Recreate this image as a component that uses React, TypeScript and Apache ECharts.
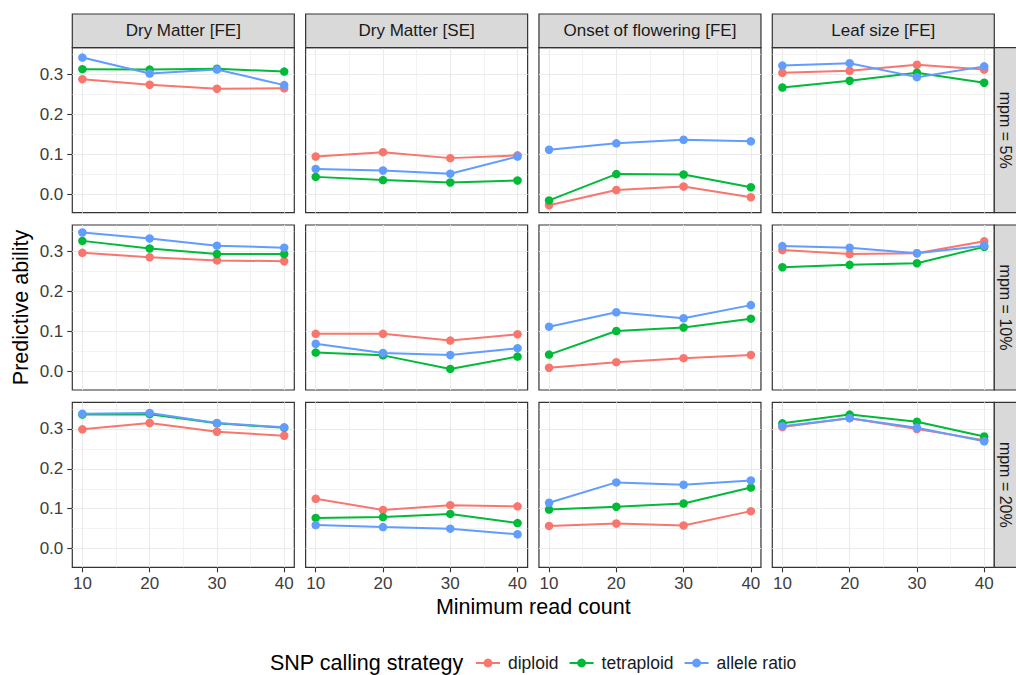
import React, { useEffect, useRef } from "react";
import * as echarts from "echarts";

// ---------- data ----------
const readCounts = [10, 20, 30, 40];
const traits = ["Dry Matter [FE]", "Dry Matter [SE]", "Onset of flowering [FE]", "Leaf size [FE]"];
const mpmLabels = ["mpm = 5%", "mpm = 10%", "mpm = 20%"];
const strategies = ["diploid", "tetraploid", "allele ratio"];
const strategyColors = ["#F8766D", "#00BA38", "#619CFF"];
const yTickValues = [0, 0.1, 0.2, 0.3];
const yMinorValues = [0.05, 0.15, 0.25, 0.35];
const xTickValues = [10, 20, 30, 40];
const xMinorValues = [15, 25, 35];

// each array: one row per trait (in the order of `traits`), values at readCounts
const mpm5Diploid = [
  [0.288, 0.274, 0.264, 0.265],
  [0.094, 0.105, 0.09, 0.097],
  [-0.028, 0.01, 0.019, -0.008],
  [0.304, 0.309, 0.324, 0.312],
];
const mpm5Tetraploid = [
  [0.313, 0.312, 0.314, 0.307],
  [0.043, 0.035, 0.029, 0.034],
  [-0.016, 0.05, 0.049, 0.017],
  [0.267, 0.284, 0.304, 0.279],
];
const mpm5AlleleRatio = [
  [0.342, 0.302, 0.312, 0.273],
  [0.063, 0.059, 0.051, 0.094],
  [0.111, 0.127, 0.136, 0.132],
  [0.322, 0.328, 0.293, 0.32],
];
const mpm10Diploid = [
  [0.297, 0.286, 0.278, 0.276],
  [0.094, 0.094, 0.077, 0.093],
  [0.009, 0.023, 0.033, 0.041],
  [0.304, 0.294, 0.296, 0.326],
];
const mpm10Tetraploid = [
  [0.327, 0.308, 0.294, 0.294],
  [0.047, 0.04, 0.006, 0.037],
  [0.042, 0.101, 0.11, 0.132],
  [0.261, 0.267, 0.271, 0.312],
];
const mpm10AlleleRatio = [
  [0.348, 0.333, 0.315, 0.31],
  [0.069, 0.046, 0.041, 0.058],
  [0.112, 0.148, 0.133, 0.166],
  [0.314, 0.31, 0.296, 0.315],
];
const mpm20Diploid = [
  [0.299, 0.315, 0.293, 0.283],
  [0.125, 0.097, 0.109, 0.106],
  [0.057, 0.063, 0.058, 0.094],
  [0.305, 0.327, 0.3, 0.272],
];
const mpm20Tetraploid = [
  [0.336, 0.337, 0.314, 0.303],
  [0.077, 0.079, 0.087, 0.064],
  [0.098, 0.105, 0.113, 0.153],
  [0.314, 0.336, 0.318, 0.281],
];
const mpm20AlleleRatio = [
  [0.338, 0.34, 0.315, 0.304],
  [0.059, 0.054, 0.05, 0.036],
  [0.115, 0.166, 0.16, 0.171],
  [0.307, 0.327, 0.303, 0.269],
];

const mpmRows = [
  [mpm5Diploid, mpm5Tetraploid, mpm5AlleleRatio],
  [mpm10Diploid, mpm10Tetraploid, mpm10AlleleRatio],
  [mpm20Diploid, mpm20Tetraploid, mpm20AlleleRatio],
];

// ---------- layout ----------
const FONT = '"Liberation Sans", Arial, Helvetica, sans-serif';
const PANEL_LEFT = 72.3;
const COL_STEP = 233.33;
const PANEL_W = 222;
const PANEL_TOP = 47.7;
const ROW_STEP = 177.3;
const PANEL_H = 165;
const STRIP = 33.7;
const DARK = "#333333";
const STRIP_FILL = "#d9d9d9";
const GRID_COLOR = "#ebebeb";

export default function App() {
  const ref = useRef<HTMLDivElement>(null);

  useEffect(() => {
    const chart = echarts.init(ref.current as HTMLDivElement, null, { renderer: "svg" });

    const all = (mpmRows as number[][][][]).flat(3);
    const lo = Math.min(...all);
    const hi = Math.max(...all);
    const yPad = (hi - lo) * 0.05;
    const yMin = lo - yPad;
    const yMax = hi + yPad;
    const xLo = readCounts[0];
    const xHi = readCounts[readCounts.length - 1];
    const xPad = (xHi - xLo) * 0.05;
    const xMin = xLo - xPad;
    const xMax = xHi + xPad;

    const grids: any[] = [];
    const xAxes: any[] = [];
    const yAxes: any[] = [];
    const series: any[] = [];
    const graphics: any[] = [];

    const gridLines = [
      ...yTickValues.map((v) => ({ yAxis: v, lineStyle: { width: 1.1, color: GRID_COLOR, type: "solid" } })),
      ...yMinorValues
        .filter((v) => v > yMin && v < yMax)
        .map((v) => ({ yAxis: v, lineStyle: { width: 0.6, color: GRID_COLOR, type: "solid" } })),
      ...xTickValues.map((v) => ({ xAxis: v, lineStyle: { width: 1.1, color: GRID_COLOR, type: "solid" } })),
      ...xMinorValues.map((v) => ({ xAxis: v, lineStyle: { width: 0.6, color: GRID_COLOR, type: "solid" } })),
    ];

    const nRows = mpmRows.length;
    const nCols = traits.length;

    mpmRows.forEach((rowData, r) => {
      traits.forEach((trait, c) => {
        const idx = r * nCols + c;
        const left = PANEL_LEFT + c * COL_STEP;
        const top = PANEL_TOP + r * ROW_STEP;
        grids.push({
          left,
          top,
          width: PANEL_W,
          height: PANEL_H,
          show: true,
          backgroundColor: "#ffffff",
          borderColor: DARK,
          borderWidth: 1.2,
          containLabel: false,
          outerBoundsMode: "none",
        });
        const isBottom = r === nRows - 1;
        const isLeft = c === 0;
        xAxes.push({
          type: "value",
          gridIndex: idx,
          min: xMin,
          max: xMax,
          splitLine: { show: false },
          axisLine: { show: false, onZero: false },
          axisTick: {
            show: isBottom,
            customValues: xTickValues,
            length: 5,
            inside: false,
            lineStyle: { color: DARK, width: 1.1 },
          },
          axisLabel: {
            show: isBottom,
            customValues: xTickValues,
            margin: 8,
            color: "#3d3d3d",
            fontSize: 17,
            fontFamily: FONT,
            formatter: (v: number) => String(v),
          },
        });
        yAxes.push({
          type: "value",
          gridIndex: idx,
          min: yMin,
          max: yMax,
          splitLine: { show: false },
          axisLine: { show: false, onZero: false },
          axisTick: {
            show: isLeft,
            customValues: yTickValues,
            length: 5,
            inside: false,
            lineStyle: { color: DARK, width: 1.1 },
          },
          axisLabel: {
            show: isLeft,
            customValues: yTickValues,
            margin: 9,
            color: "#3d3d3d",
            fontSize: 17,
            fontFamily: FONT,
            formatter: (v: number) => v.toFixed(1),
          },
        });

        strategies.forEach((name, s) => {
          const vals = rowData[s][c];
          const item: any = {
            type: "line",
            name,
            xAxisIndex: idx,
            yAxisIndex: idx,
            data: readCounts.map((x, k) => [x, vals[k]]),
            symbol: "circle",
            symbolSize: 8.5,
            showSymbol: true,
            lineStyle: { width: 2, color: strategyColors[s] },
            itemStyle: { color: strategyColors[s] },
            emphasis: { disabled: true },
            silent: true,
            z: 3,
          };
          if (s === 0) {
            item.markLine = {
              silent: true,
              symbol: ["none", "none"],
              label: { show: false },
              emphasis: { disabled: true },
              animation: false,
              z: 1,
              data: gridLines,
            };
          }
          series.push(item);
        });

        // top strips
        if (r === 0) {
          graphics.push({
            type: "rect",
            shape: { x: left, y: PANEL_TOP - STRIP, width: PANEL_W, height: STRIP },
            style: { fill: STRIP_FILL, stroke: DARK, lineWidth: 1.2 },
            z: 10,
          });
          graphics.push({
            type: "text",
            x: left + PANEL_W / 2,
            y: PANEL_TOP - STRIP / 2,
            style: {
              text: trait,
              fill: "#1a1a1a",
              fontSize: 17,
              fontFamily: FONT,
              align: "center",
              verticalAlign: "middle",
            },
            z: 11,
          });
        }
        // right strips
        if (c === nCols - 1) {
          const sx = left + PANEL_W;
          graphics.push({
            type: "rect",
            shape: { x: sx, y: top, width: STRIP, height: PANEL_H },
            style: { fill: STRIP_FILL, stroke: DARK, lineWidth: 1.2 },
            z: 10,
          });
          graphics.push({
            type: "text",
            x: sx + 11.5,
            y: top + PANEL_H / 2,
            rotation: -Math.PI / 2,
            style: {
              text: mpmLabels[r],
              fill: "#1a1a1a",
              fontSize: 16,
              fontFamily: FONT,
              align: "center",
              verticalAlign: "middle",
            },
            z: 11,
          });
        }
      });
    });

    const panelsRight = PANEL_LEFT + (nCols - 1) * COL_STEP + PANEL_W;
    const panelsBottom = PANEL_TOP + (nRows - 1) * ROW_STEP + PANEL_H;

    // axis titles
    graphics.push({
      type: "text",
      x: (PANEL_LEFT + panelsRight) / 2,
      y: panelsBottom + 40,
      style: {
        text: "Minimum read count",
        fill: "#000000",
        fontSize: 21.5,
        fontFamily: FONT,
        align: "center",
        verticalAlign: "middle",
      },
    });
    graphics.push({
      type: "text",
      x: 21,
      y: (PANEL_TOP + panelsBottom) / 2,
      rotation: Math.PI / 2,
      style: {
        text: "Predictive ability",
        fill: "#000000",
        fontSize: 21.5,
        fontFamily: FONT,
        align: "center",
        verticalAlign: "middle",
      },
    });
    // legend title
    graphics.push({
      type: "text",
      x: 270,
      y: 663,
      style: {
        text: "SNP calling strategy",
        fill: "#000000",
        fontSize: 21.5,
        fontFamily: FONT,
        align: "left",
        verticalAlign: "middle",
      },
    });

    chart.setOption({
      animation: false,
      backgroundColor: "#ffffff",
      grid: grids,
      xAxis: xAxes,
      yAxis: yAxes,
      series,
      graphic: { elements: graphics },
      legend: {
        data: strategies,
        left: 475,
        top: 653,
        padding: 0,
        itemWidth: 24,
        itemHeight: 11,
        itemGap: 10,
        selectedMode: false,
        textStyle: {
          fontSize: 17.5,
          fontFamily: FONT,
          color: "#1a1a1a",
          lineHeight: 20,
          padding: [0, 0, 0, 3],
        },
      },
    });

    return () => {
      chart.dispose();
    };
  }, []);

  return (
    <div
      ref={ref}
      style={{ position: "fixed", left: 0, top: 0, width: 1016, height: 675, background: "#ffffff" }}
    />
  );
}
